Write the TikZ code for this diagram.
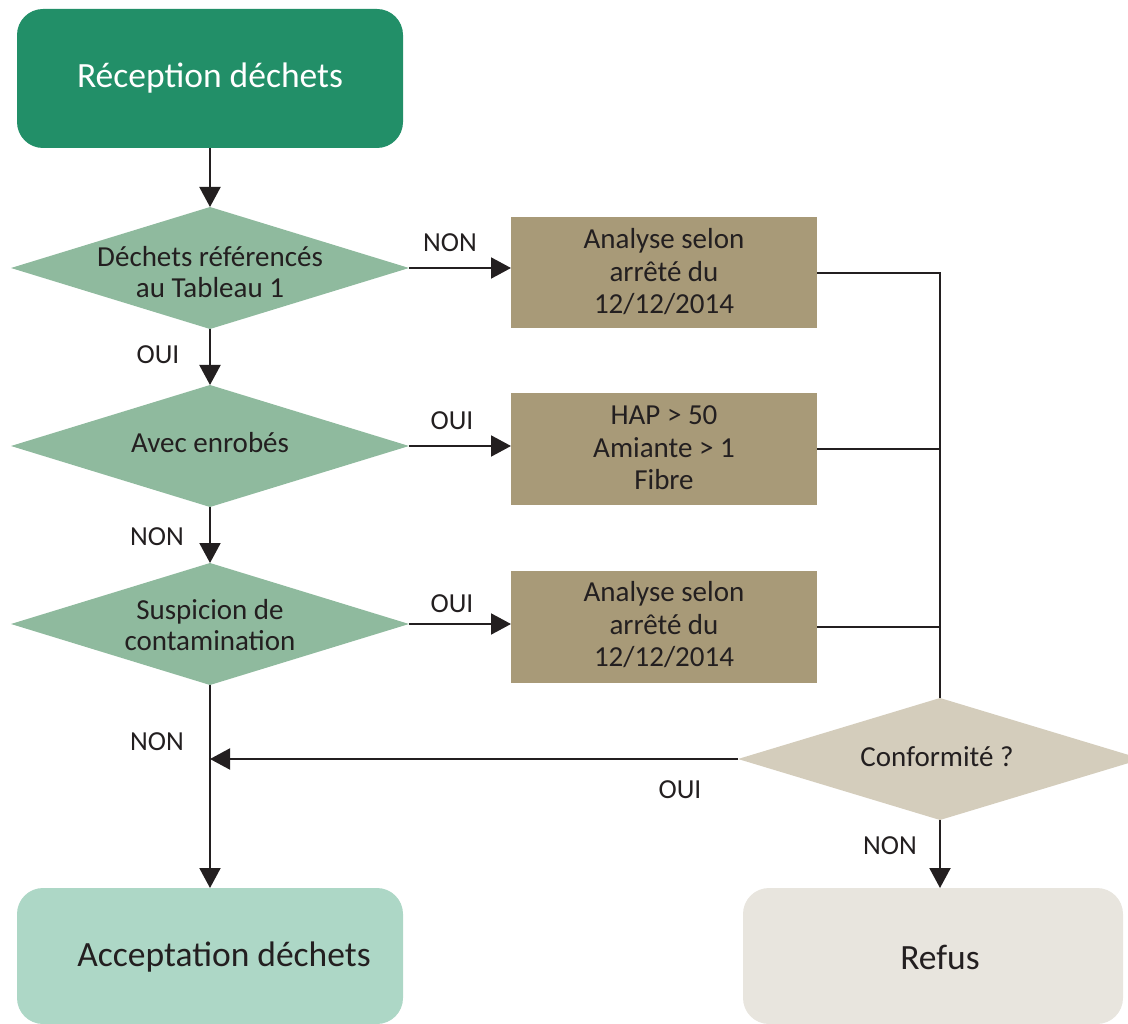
\documentclass[tikz,border=0pt]{standalone}
\usepackage{fontspec}
\setmainfont{Carlito}
\usetikzlibrary{shapes.geometric,arrows.meta}
\definecolor{ink}{RGB}{35,31,32}
\definecolor{dkgreen}{RGB}{34,143,104}
\definecolor{dgreen}{RGB}{143,186,158}
\definecolor{tan}{RGB}{168,154,120}
\definecolor{beige}{RGB}{212,205,188}
\definecolor{mint}{RGB}{173,215,198}
\definecolor{pale}{RGB}{232,229,222}
\begin{document}
\begin{tikzpicture}[x=1pt,y=-1pt,
  every node/.style={text=ink,inner sep=0pt,outer sep=0pt},
  term/.style={rounded corners=26pt,draw=none},
  dia/.style={diamond,minimum width=398pt,minimum height=122pt,draw=none},
  anbox/.style={rectangle,fill=tan,minimum width=306pt,minimum height=111pt},
  bigtxt/.style={font=\fontsize{35.5}{42}\selectfont},
  dtxt/.style={font=\fontsize{29}{31}\selectfont,align=center},
  btxt/.style={font=\fontsize{29}{32.5}\selectfont,align=center},
  lbl/.style={font=\fontsize{27.5}{30}\selectfont},
  conn/.style={draw=ink,line width=2pt},
  arr/.style={conn,-{Triangle[length=20pt,width=21pt]}}]
\useasboundingbox (0,0) rectangle (1128,1024);
% terminal boxes
\node[term,fill=dkgreen,minimum width=386pt,minimum height=139pt] (rec) at (210,78.5) {};
\node[bigtxt,text=white] (rect) at (210,78) {Réception déchets};
\node[term,fill=mint,minimum width=386pt,minimum height=136pt] (acc) at (210,956) {};
\node[bigtxt] (acct) at (224,957) {Acceptation déchets};
\node[term,fill=pale,minimum width=380pt,minimum height=136pt] (ref) at (933,956) {};
\node[bigtxt] (reft) at (940,957) {Refus};
% decisions
\node[dia,fill=dgreen] (d1) at (210,268) {};
\node[dtxt] (d1t) at (210,272) {Déchets référencés\\au Tableau 1};
\node[dia,fill=dgreen] (d2) at (210,446) {};
\node[dtxt] (d2t) at (210,443) {Avec enrobés};
\node[dia,fill=dgreen] (d3) at (210,624) {};
\node[dtxt] (d3t) at (210,625) {Suspicion de\\contamination};
\node[dia,fill=beige,minimum width=404pt] (d4) at (940,759) {};
\node[dtxt] (d4t) at (937,757) {Conformité ?};
% analysis boxes
\node[anbox] (b1) at (664,273) {};
\node[btxt] (b1t) at (664,272) {Analyse selon\\arrêté du\\12/12/2014};
\node[anbox,minimum height=112pt] (b2) at (664,449) {};
\node[btxt] (b2t) at (664,448) {HAP > 50\\Amiante > 1\\Fibre};
\node[anbox,minimum height=112pt] (b3) at (664,627) {};
\node[btxt] (b3t) at (664,625) {Analyse selon\\arrêté du\\12/12/2014};
% connectors
\draw[arr] (rec.south) -- (d1.north);
\draw[arr] (d1.south) -- (d2.north);
\draw[arr] (d2.south) -- (d3.north);
\draw[arr] (d3.south) -- (acc.north);
\draw[arr] (d1.east) -- (d1.east -| b1.west);
\draw[arr] (d2.east) -- (d2.east -| b2.west);
\draw[arr] (d3.east) -- (d3.east -| b3.west);
\draw[conn] (b1.east) -- (b1.east -| d4.north) -- (d4.north);
\draw[conn] (b2.east) -- (b2.east -| d4.north);
\draw[conn] (b3.east) -- (b3.east -| d4.north);
\draw[arr] (d4.west) -- (d4.west -| d3.south);
\draw[arr] (d4.south) -- (d4.south |- ref.north);
% labels
\node[lbl] (l1) at (450,243) {NON};
\node[lbl] (l2) at (158,355) {OUI};
\node[lbl] (l3) at (452,421) {OUI};
\node[lbl] (l4) at (157,537) {NON};
\node[lbl] (l5) at (452,604) {OUI};
\node[lbl] (l6) at (157,742) {NON};
\node[lbl] (l7) at (680,790) {OUI};
\node[lbl] (l8) at (890,846) {NON};
\end{tikzpicture}
\end{document}
